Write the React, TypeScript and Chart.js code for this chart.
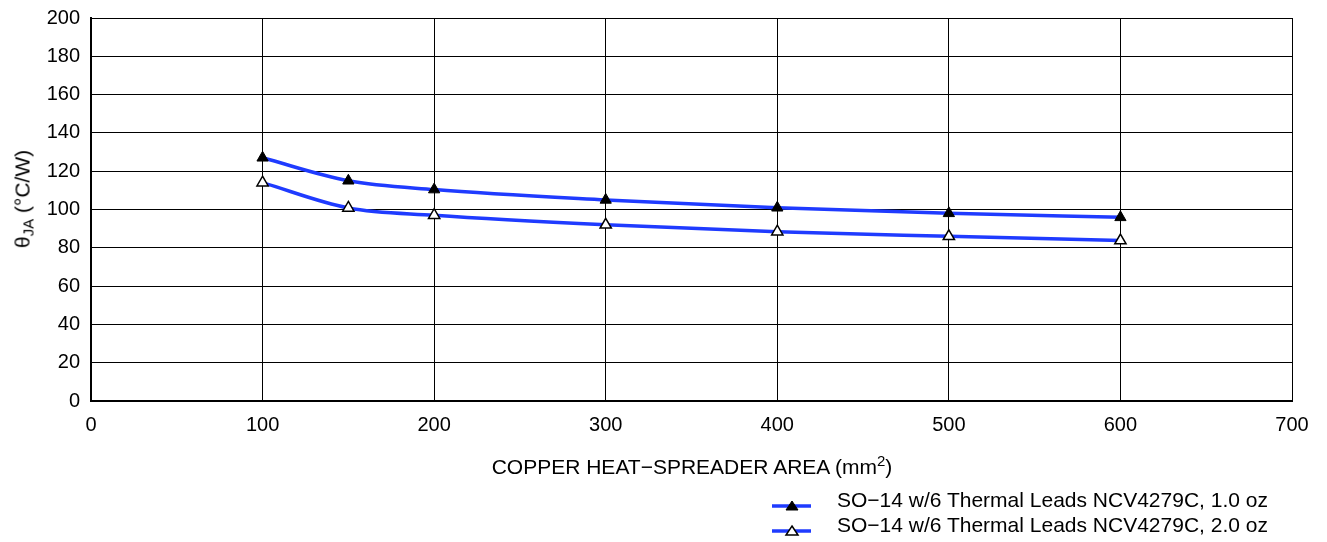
import React, { useEffect, useRef } from "react";
import { Chart, registerables } from "chart.js";

Chart.register(...registerables);

const areas = [100, 150, 200, 300, 400, 500, 600];
const theta1oz = [127, 115, 110.4, 105, 100.9, 98, 95.9];
const theta2oz = [114, 100.8, 97, 92, 88.4, 86, 83.8];
const seriesNames = [
  "SO\u221214 w/6 Thermal Leads NCV4279C, 1.0 oz",
  "SO\u221214 w/6 Thermal Leads NCV4279C, 2.0 oz",
];
const xMin = 0;
const xMax = 700;
const xStep = 100;
const yMin = 0;
const yMax = 200;
const yStep = 20;

const FONT = "'Liberation Sans', Arial, Helvetica, sans-serif";
const LINE_COLOR = "#1f3bff";

export default function App() {
  const ref = useRef<HTMLCanvasElement | null>(null);

  useEffect(() => {
    document.body.style.margin = "0";
    if (!ref.current) return;
    const chart = new Chart(ref.current, {
      type: "line",
      data: {
        datasets: [
          {
            label: seriesNames[0],
            data: areas.map((a, i) => ({ x: a, y: theta1oz[i] })),
            borderColor: LINE_COLOR,
            borderWidth: 3.5,
            cubicInterpolationMode: "monotone",
            pointStyle: "triangle",
            pointRadius: 6.5,
            pointBackgroundColor: "#000",
            pointBorderColor: "#000",
            pointBorderWidth: 1,
            fill: false,
          },
          {
            label: seriesNames[1],
            data: areas.map((a, i) => ({ x: a, y: theta2oz[i] })),
            borderColor: LINE_COLOR,
            borderWidth: 3.5,
            cubicInterpolationMode: "monotone",
            pointStyle: "triangle",
            pointRadius: 6.5,
            pointBackgroundColor: "#fff",
            pointBorderColor: "#000",
            pointBorderWidth: 1.5,
            fill: false,
          },
        ],
      },
      options: {
        animation: false,
        responsive: false,
        maintainAspectRatio: false,
        layout: { padding: { left: 0, top: 18, right: 35, bottom: 0 } },
        plugins: {
          legend: { display: false },
          tooltip: { enabled: false },
        },
        scales: {
          x: {
            type: "linear",
            min: xMin,
            max: xMax,
            ticks: {
              stepSize: xStep,
              color: "#000",
              font: { family: FONT, size: 20 },
              padding: 12,
              maxRotation: 0,
            },
            grid: { color: "#000", lineWidth: 1, drawTicks: false },
            border: { color: "#000", width: 2 },
            afterFit: (s: any) => {
              s.height = 141;
              s.paddingLeft = 0;
              s.paddingRight = 0;
            },
          },
          y: {
            type: "linear",
            min: yMin,
            max: yMax,
            ticks: {
              stepSize: yStep,
              color: "#000",
              font: { family: FONT, size: 20 },
              padding: 11,
            },
            grid: { color: "#000", lineWidth: 1, drawTicks: false },
            border: { color: "#000", width: 2 },
            afterFit: (s: any) => {
              s.width = 91;
              s.paddingTop = 0;
              s.paddingBottom = 0;
            },
          },
        },
      },
    });
    return () => chart.destroy();
  }, []);

  const textStyle: React.CSSProperties = {
    position: "absolute",
    fontFamily: FONT,
    fontSize: 21,
    color: "#000",
    whiteSpace: "nowrap",
    lineHeight: "25px",
  };

  return (
    <div style={{ position: "relative", width: 1327, height: 542, background: "#fff", overflow: "hidden" }}>
      <canvas ref={ref} width={1327} height={542} style={{ display: "block" }} />
      <div
        style={{
          ...textStyle,
          left: 22,
          top: 199,
          transform: "translate(-50%, -50%) rotate(-90deg)",
        }}
      >
        θ<sub style={{ fontSize: 15, verticalAlign: "-4px", lineHeight: 0 }}>JA</sub> (°C/W)
      </div>
      <div
        style={{
          ...textStyle,
          left: 692,
          top: 466,
          transform: "translate(-50%, -50%)",
        }}
      >
        COPPER HEAT−SPREADER AREA (mm<sup style={{ fontSize: 15, verticalAlign: "8px", lineHeight: 0 }}>2</sup>)
      </div>
      <svg
        style={{ position: "absolute", left: 770, top: 490 }}
        width={45}
        height={48}
      >
        <line x1={2} y1={16} x2={41} y2={16} stroke={LINE_COLOR} strokeWidth={3.5} />
        <polygon points="22,11 28,20 16,20" fill="#000" stroke="#000" strokeWidth={1} />
        <line x1={2} y1={41} x2={41} y2={41} stroke={LINE_COLOR} strokeWidth={3.5} />
        <polygon points="22,36 28,45 16,45" fill="#fff" stroke="#000" strokeWidth={1.5} />
      </svg>
      <div style={{ ...textStyle, left: 837, top: 487 }}>{seriesNames[0]}</div>
      <div style={{ ...textStyle, left: 837, top: 512 }}>{seriesNames[1]}</div>
    </div>
  );
}
